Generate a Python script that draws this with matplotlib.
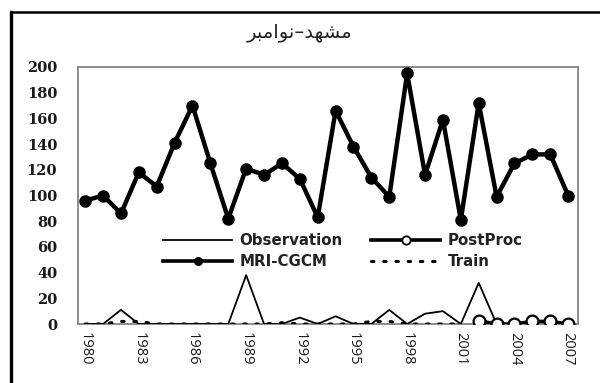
import matplotlib
matplotlib.use('Agg')
import matplotlib.pyplot as plt
from matplotlib.lines import Line2D

# yearly series, Mashhad / November
years = list(range(1980, 2008))
mri_cgcm = [96, 100, 86, 118, 107, 141, 170, 125, 82, 121, 116, 125, 113, 83,
            166, 138, 114, 99, 195, 116, 159, 81, 172, 99, 125, 132, 132, 100]
obs_years = list(range(1980, 2004))
observation = [0, 0, 11, 0, 0, 0, 0, 0, 0, 38, 0, 0, 5, 0,
               6, 0, 0, 11, 0, 8, 10, 0, 32, 0]
train_years = list(range(1980, 2002))
train = [0, 0, 2, 2, 0, 0, 0, 0, 0, 0, 0, 1, 0, 0, 0, 0, 2, 2, 0, 0, 0, 0]
post_years = list(range(2002, 2008))
postproc = [2.5, 0, 0, 2, 2, 0]
year_ticks = list(range(1980, 2008, 3))
y_ticks = list(range(0, 201, 20))

# title is stored in visual order with contextual arabic forms
title = '\uFEAE\uFE92\uFEE3\uFE8D\uFEEE\uFEE7\u2013\uFEAA\uFEEC\uFEB8\uFEE3'

fig = plt.figure(figsize=(6.0, 3.83), dpi=100)
fig.patch.set_facecolor('white')
ax = fig.add_axes([78/600, 1-324/383, 500/600, 257/383])

ax.plot(obs_years, observation, color='black', lw=1.3, label='Observation', zorder=3)
ax.plot(post_years, postproc, color='black', lw=2.6, marker='o', ms=8.5,
        mfc='white', mec='black', mew=1.6, label='PostProc', zorder=5)
ax.plot(years, mri_cgcm, color='black', lw=3.2, marker='o', ms=8,
        label='MRI-CGCM', zorder=4)
ax.plot(train_years, train, color='black', lw=2.2, dashes=(0.8, 3.2),
        dash_capstyle='round', label='Train', zorder=3)

ax.set_xlim(1979.6, 2007.55)
ax.set_ylim(0, 200)
ax.set_xticks(year_ticks)
ax.set_xticklabels([str(y) for y in year_ticks], rotation=-90,
                   fontfamily='Open Sans', fontsize=10.5, color='#1a1a1a')
ax.set_yticks(y_ticks)
ax.set_yticklabels([str(v) for v in y_ticks], fontfamily='DejaVu Serif',
                   fontweight='bold', fontsize=10.5, color='#1a1a1a')
ax.tick_params(axis='x', length=0, pad=6)
ax.tick_params(axis='y', length=0, pad=15)
for s in ax.spines.values():
    s.set_color('#8c8c8c')
    s.set_linewidth(1.4)

# legend: two columns, filled column by column
h_obs = Line2D([], [], color='black', lw=1.3)
h_mri = Line2D([], [], color='black', lw=2.6, marker='o', ms=5.5)
h_post = Line2D([], [], color='black', lw=2.6, marker='o', ms=6,
                mfc='white', mec='black', mew=1.3)
h_train = Line2D([], [], color='black', lw=2.2, dashes=(0.8, 3.2),
                 dash_capstyle='round')
leg = fig.legend([h_obs, h_mri, h_post, h_train],
                 ['Observation', 'MRI-CGCM', 'PostProc', 'Train'],
                 ncol=2, loc='center', bbox_to_anchor=(343/600, 1-251/383),
                 frameon=False, handlelength=4.6, handletextpad=0.5,
                 columnspacing=1.9, labelspacing=0.4, numpoints=1,
                 prop={'family': 'DejaVu Sans', 'weight': 'semibold', 'size': 10.8})
for t in leg.get_texts():
    t.set_color('#222222')

fig.text(0.5, 1-33/383, title, ha='center', va='center',
         fontfamily='DejaVu Sans', fontsize=14, color='#222222')

# outer frame (left and top edges)
fig.add_artist(Line2D([11/600, 11/600], [0, 1-12/383], color='black', lw=2.4,
                      transform=fig.transFigure))
fig.add_artist(Line2D([11/600, 1], [1-12/383, 1-12/383], color='black', lw=1.8,
                      transform=fig.transFigure))

fig.savefig('out.png', dpi=100, facecolor='white')
